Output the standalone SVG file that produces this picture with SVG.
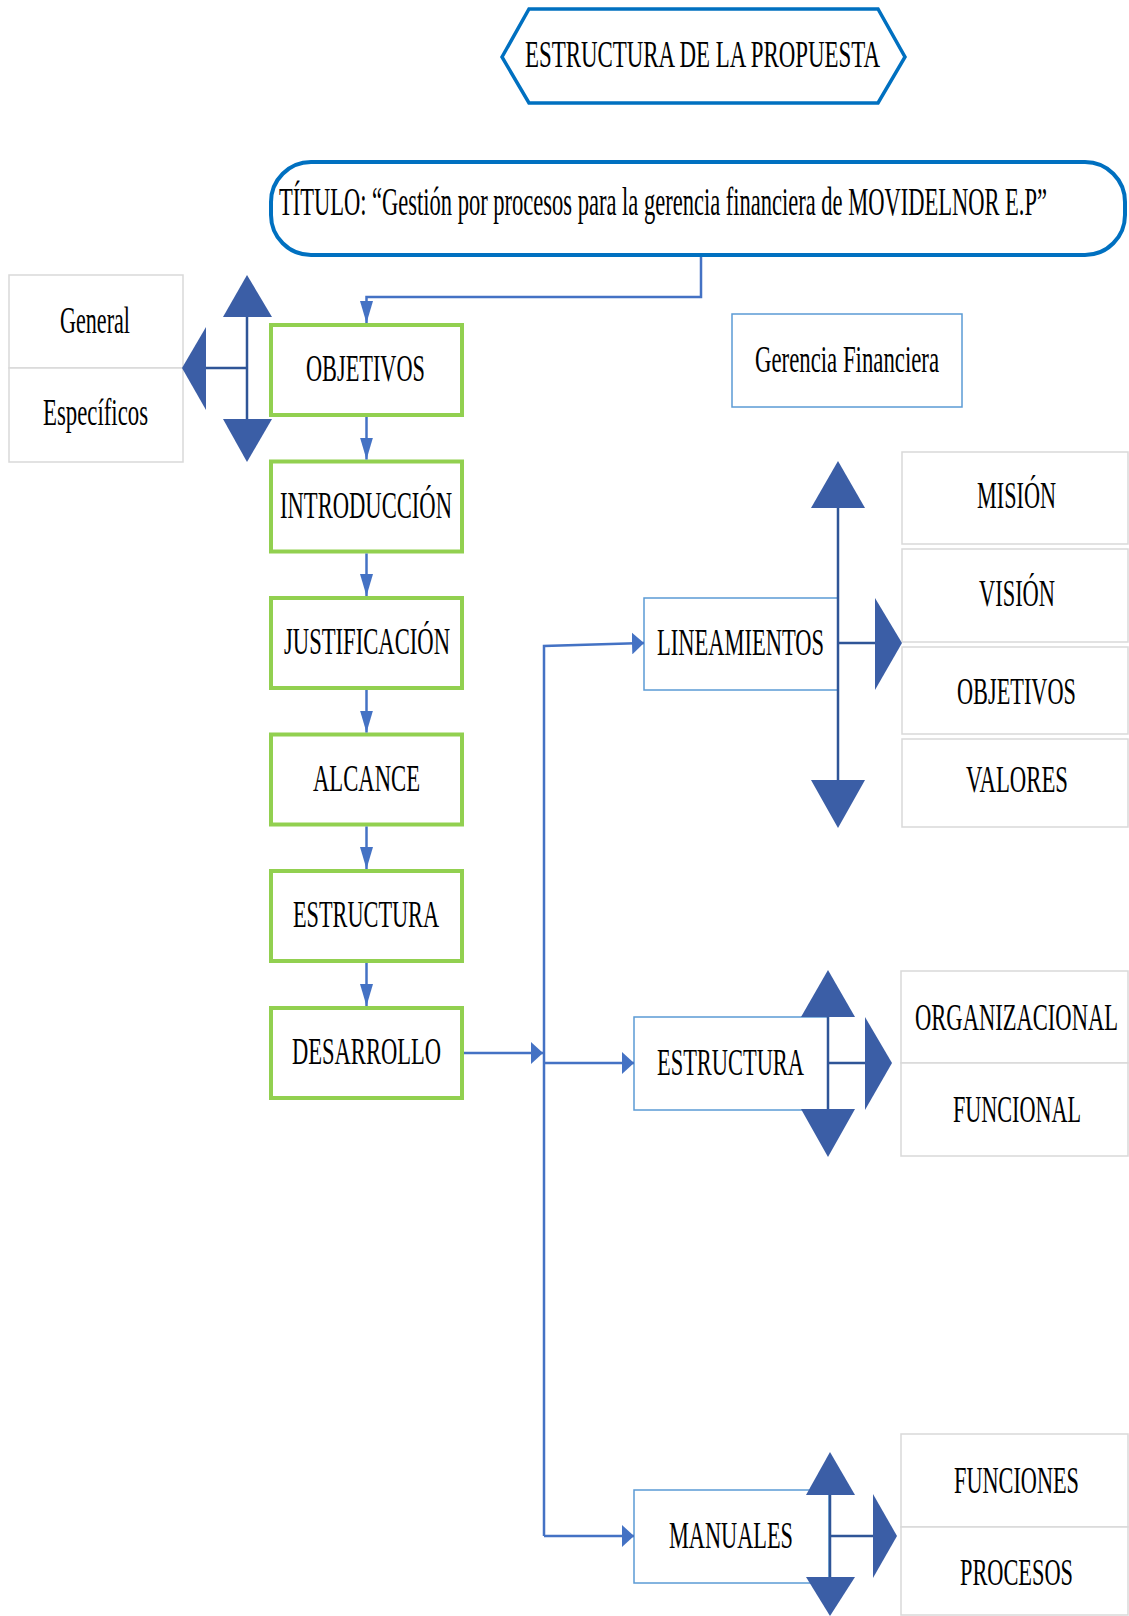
<svg xmlns="http://www.w3.org/2000/svg" width="1129" height="1616" viewBox="0 0 1129 1616">
  <defs>
    <style>
      text { font-family: "Liberation Serif", "Times New Roman", serif; fill: #000; text-anchor: middle; }
      .t37 { font-size: 37px; }
      .step { fill: #fff; stroke: #92D050; stroke-width: 4; }
      .item { fill: #fff; stroke: #D9D9D9; stroke-width: 1.5; }
      .sub { fill: #fff; stroke: #5B9BD5; stroke-width: 1.5; }
      .link { fill: none; stroke: #4472C4; stroke-width: 2.5; }
      .fork { fill: none; stroke: #2F5597; stroke-width: 2.5; }
      .head { fill: #3B5EA6; }
    </style>
    <!-- long narrow head for vertical links -->
    <marker id="arrV" markerUnits="userSpaceOnUse" markerWidth="22" markerHeight="13" refX="22" refY="6.5" orient="auto">
      <path d="M0,0 L22,6.5 L0,13 z" fill="#4472C4"/>
    </marker>
    <!-- short wide head for horizontal links -->
    <marker id="arrH" markerUnits="userSpaceOnUse" markerWidth="12" markerHeight="22" refX="12" refY="11" orient="auto">
      <path d="M0,0 L12,11 L0,22 z" fill="#4472C4"/>
    </marker>
  </defs>

  <rect width="1129" height="1616" fill="#fff"/>

  <!-- labels use a condensed serif: glyphs are squeezed horizontally by scale(0.62,1) -->

  <!-- heading -->
  <g id="heading">
    <polygon points="502,57 529,9 878,9 905,57 878,103 529,103" fill="#fff" stroke="#0070C0" stroke-width="3.5"/>
    <text transform="translate(702.5,67) scale(0.62,1)" font-size="38" textLength="572.6" lengthAdjust="spacingAndGlyphs">ESTRUCTURA DE LA PROPUESTA</text>
  </g>

  <!-- title -->
  <g id="title">
    <rect x="271" y="162" width="854" height="93" rx="40" ry="40" fill="#fff" stroke="#0070C0" stroke-width="4"/>
    <text transform="translate(663,215) scale(0.62,1)" font-size="40" textLength="1238.7" lengthAdjust="spacingAndGlyphs">TÍTULO: “Gestión por procesos para la gerencia financiera de MOVIDELNOR E.P”</text>
  </g>

  <!-- objective types -->
  <g id="obj-general">
    <rect class="item" x="9" y="275" width="174" height="93"/>
    <text class="t37" transform="translate(95,333) scale(0.62,1)" textLength="112.9" lengthAdjust="spacingAndGlyphs">General</text>
  </g>
  <g id="obj-especificos">
    <rect class="item" x="9" y="368" width="174" height="94"/>
    <text class="t37" transform="translate(95.5,425) scale(0.62,1)" textLength="169.4" lengthAdjust="spacingAndGlyphs">Específicos</text>
  </g>

  <!-- main sequence -->
  <g id="objetivos">
    <rect class="step" x="271" y="325" width="191" height="90"/>
    <text class="t37" transform="translate(365.5,381) scale(0.62,1)" textLength="191.9" lengthAdjust="spacingAndGlyphs">OBJETIVOS</text>
  </g>
  <g id="introduccion">
    <rect class="step" x="271" y="461.5" width="191" height="90"/>
    <text class="t37" transform="translate(366,517.5) scale(0.62,1)" textLength="277.4" lengthAdjust="spacingAndGlyphs">INTRODUCCIÓN</text>
  </g>
  <g id="justificacion">
    <rect class="step" x="271" y="598" width="191" height="90"/>
    <text class="t37" transform="translate(367,654) scale(0.62,1)" textLength="267.7" lengthAdjust="spacingAndGlyphs">JUSTIFICACIÓN</text>
  </g>
  <g id="alcance">
    <rect class="step" x="271" y="734.5" width="191" height="90"/>
    <text class="t37" transform="translate(366.5,790.5) scale(0.62,1)" textLength="172.6" lengthAdjust="spacingAndGlyphs">ALCANCE</text>
  </g>
  <g id="estructura">
    <rect class="step" x="271" y="871" width="191" height="90"/>
    <text class="t37" transform="translate(366,927) scale(0.62,1)" textLength="235.5" lengthAdjust="spacingAndGlyphs">ESTRUCTURA</text>
  </g>
  <g id="desarrollo">
    <rect class="step" x="271" y="1008" width="191" height="90"/>
    <text class="t37" transform="translate(366.5,1064) scale(0.62,1)" textLength="240.3" lengthAdjust="spacingAndGlyphs">DESARROLLO</text>
  </g>

  <!-- area -->
  <g id="gerencia">
    <rect class="sub" x="732" y="314" width="230" height="93"/>
    <text class="t37" transform="translate(847,372) scale(0.62,1)" textLength="296.8" lengthAdjust="spacingAndGlyphs">Gerencia Financiera</text>
  </g>

  <!-- development branches -->
  <g id="lineamientos">
    <rect class="sub" x="644" y="598" width="194" height="92"/>
    <text class="t37" transform="translate(740.5,655) scale(0.62,1)" textLength="269.4" lengthAdjust="spacingAndGlyphs">LINEAMIENTOS</text>
  </g>
  <g id="estructura-org">
    <rect class="sub" x="634" y="1017" width="194" height="93"/>
    <text class="t37" transform="translate(730.5,1075) scale(0.62,1)" textLength="237.1" lengthAdjust="spacingAndGlyphs">ESTRUCTURA</text>
  </g>
  <g id="manuales">
    <rect class="sub" x="634" y="1490" width="195" height="93"/>
    <text class="t37" transform="translate(731,1548) scale(0.62,1)" textLength="200" lengthAdjust="spacingAndGlyphs">MANUALES</text>
  </g>

  <!-- guideline items -->
  <g id="mision">
    <rect class="item" x="902" y="452" width="226" height="92"/>
    <text class="t37" transform="translate(1016.5,508) scale(0.62,1)" textLength="127.4" lengthAdjust="spacingAndGlyphs">MISIÓN</text>
  </g>
  <g id="vision">
    <rect class="item" x="902" y="549" width="226" height="93"/>
    <text class="t37" transform="translate(1017,606) scale(0.62,1)" textLength="122.6" lengthAdjust="spacingAndGlyphs">VISIÓN</text>
  </g>
  <g id="objetivos-lin">
    <rect class="item" x="902" y="647" width="226" height="87"/>
    <text class="t37" transform="translate(1016.5,704) scale(0.62,1)" textLength="191.9" lengthAdjust="spacingAndGlyphs">OBJETIVOS</text>
  </g>
  <g id="valores">
    <rect class="item" x="902" y="739" width="226" height="88"/>
    <text class="t37" transform="translate(1017,792) scale(0.62,1)" textLength="164.5" lengthAdjust="spacingAndGlyphs">VALORES</text>
  </g>

  <!-- structure items -->
  <g id="organizacional">
    <rect class="item" x="901" y="971" width="227" height="92"/>
    <text class="t37" transform="translate(1016.5,1030) scale(0.62,1)" textLength="327.4" lengthAdjust="spacingAndGlyphs">ORGANIZACIONAL</text>
  </g>
  <g id="funcional">
    <rect class="item" x="901" y="1063" width="227" height="93"/>
    <text class="t37" transform="translate(1017,1122) scale(0.62,1)" textLength="206.5" lengthAdjust="spacingAndGlyphs">FUNCIONAL</text>
  </g>

  <!-- manual items -->
  <g id="funciones">
    <rect class="item" x="901" y="1434" width="227" height="93"/>
    <text class="t37" transform="translate(1016.5,1493) scale(0.62,1)" textLength="201.6" lengthAdjust="spacingAndGlyphs">FUNCIONES</text>
  </g>
  <g id="procesos">
    <rect class="item" x="901" y="1527" width="227" height="88"/>
    <text class="t37" transform="translate(1016.5,1585) scale(0.62,1)" textLength="182.3" lengthAdjust="spacingAndGlyphs">PROCESOS</text>
  </g>

  <!-- connectors -->
  <g id="connectors">
    <path class="link" d="M701,257 V297 H366.5 V323" marker-end="url(#arrV)"/>
    <path class="link" d="M366.5,417 V459.5" marker-end="url(#arrV)"/>
    <path class="link" d="M366.5,553.5 V596" marker-end="url(#arrV)"/>
    <path class="link" d="M366.5,690 V732.5" marker-end="url(#arrV)"/>
    <path class="link" d="M366.5,826.5 V869" marker-end="url(#arrV)"/>
    <path class="link" d="M366.5,963 V1006" marker-end="url(#arrV)"/>
    <path class="link" d="M464,1053 H543" marker-end="url(#arrH)"/>
    <path class="link" d="M544,1536 V646 L644,643" marker-end="url(#arrH)"/>
    <path class="link" d="M544,1063 H634" marker-end="url(#arrH)"/>
    <path class="link" d="M544,1536 H634" marker-end="url(#arrH)"/>

    <!-- fork: objetivos -->
    <path class="fork" d="M247,317 V419 M206,368 H247"/>
    <polygon class="head" points="247,275 272,317 223,317"/>
    <polygon class="head" points="223,419 272,419 247,462"/>
    <polygon class="head" points="182,368 206,327 206,410"/>

    <!-- fork: lineamientos -->
    <path class="fork" d="M838,508 V780 M838,643 H875"/>
    <polygon class="head" points="838,461 865,508 811,508"/>
    <polygon class="head" points="811,780 865,780 838,828"/>
    <polygon class="head" points="875,598 902,643 875,690"/>

    <!-- fork: estructura -->
    <path class="fork" d="M828,1017 V1109 M828,1063 H865"/>
    <polygon class="head" points="828,970 855,1017 801,1017"/>
    <polygon class="head" points="801,1109 855,1109 828,1157"/>
    <polygon class="head" points="865,1017 892,1063 865,1110"/>

    <!-- fork: manuales -->
    <path class="fork" d="M830,1495 V1577 M830,1536 H873"/>
    <polygon class="head" points="830,1452 855,1495 806,1495"/>
    <polygon class="head" points="806,1577 855,1577 830,1616"/>
    <polygon class="head" points="873,1494 897,1536 873,1578"/>
  </g>
</svg>
